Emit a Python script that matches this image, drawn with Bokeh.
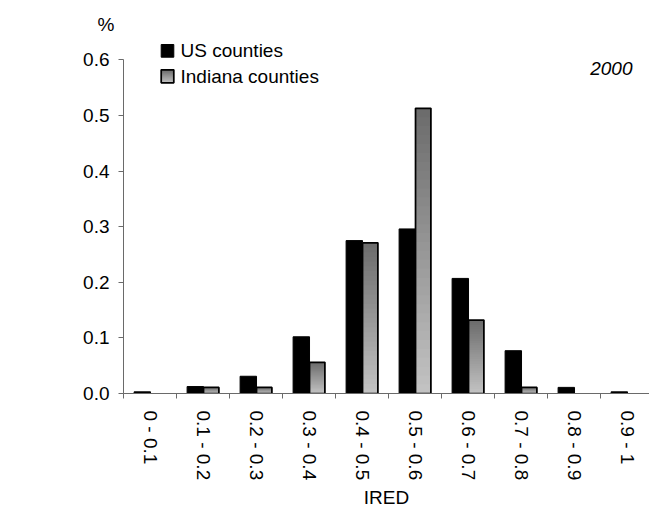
import math
from bokeh.plotting import figure
from bokeh.models import Range1d, FixedTicker, NumeralTickFormatter
from bokeh.embed import file_html
from bokeh.resources import INLINE
from bokeh.core.properties import value

# ---------------- data ----------------
categories = ["0 - 0.1", "0.1 - 0.2", "0.2 - 0.3", "0.3 - 0.4", "0.4 - 0.5",
              "0.5 - 0.6", "0.6 - 0.7", "0.7 - 0.8", "0.8 - 0.9", "0.9 - 1"]
us_counties = [0.003, 0.0125, 0.031, 0.102, 0.275, 0.296, 0.207, 0.077, 0.011, 0.003]
indiana_counties = [0.0, 0.011, 0.011, 0.056, 0.271, 0.513, 0.132, 0.011, 0.0, 0.0]
y_ticks = [0.0, 0.1, 0.2, 0.3, 0.4, 0.5, 0.6]
series_names = ["US counties", "Indiana counties"]
year_label = "2000"
x_title = "IRED"
y_title = "%"

# ---------------- layout ----------------
FONT = "Liberation Sans"
FS = "19px"
W, H = 649, 511
BORDER_L, BORDER_T, BORDER_B = 123, 36, 118
PX_CAT = 53.0          # pixels per category
PX_UNIT = 556.0        # pixels per 1.0 on y
FRAME_W = W - BORDER_L
FRAME_H = H - BORDER_T - BORDER_B
X0_PAGE = BORDER_L
Y0_PAGE = BORDER_T + FRAME_H
AXIS_GRAY = "#6a6a6a"
DARK, LIGHT = (108, 108, 108), (194, 194, 194)
NSLICE = 32


def px_x(page_x):
    return (page_x - X0_PAGE) / PX_CAT


def px_y(page_y):
    return (Y0_PAGE - page_y) / PX_UNIT


def grad_color(t):
    # t=0 bottom (light), t=1 top (dark)
    c = [round(LIGHT[k] + (DARK[k] - LIGHT[k]) * t) for k in range(3)]
    return "#%02x%02x%02x" % tuple(c)


p = figure(width=W, height=H, output_backend="svg", toolbar_location=None,
           x_range=Range1d(0, FRAME_W / PX_CAT), y_range=Range1d(0, FRAME_H / PX_UNIT),
           min_border_left=BORDER_L, min_border_right=0, min_border_top=BORDER_T,
           min_border_bottom=BORDER_B, title=y_title)
p.outline_line_color = None
p.grid.visible = False
p.background_fill_color = "white"

# "%" as a title over the y axis
p.title.align = "left"
p.title.offset = -26
p.title.standoff = 4
p.title.vertical_align = "bottom"
p.title.text_font = FONT
p.title.text_font_size = FS
p.title.text_font_style = "normal"
p.title.text_color = "black"

centers = [i + 0.5 for i in range(len(categories))]

# US bars
p.quad(left=[c - 0.30 for c in centers], right=[c + 0.01 for c in centers],
       bottom=[0] * len(centers), top=us_counties,
       fill_color="black", line_color="black", line_width=1)

# Indiana bars with vertical gradient
gl, gr, gb, gt, gc = [], [], [], [], []
ol, orr, ot = [], [], []
for c, v in zip(centers, indiana_counties):
    if v <= 0:
        continue
    for k in range(NSLICE):
        gl.append(c + 0.01)
        gr.append(c + 0.30)
        gb.append(v * k / NSLICE)
        gt.append(v)
        gc.append(grad_color(k / (NSLICE - 1)))
    ol.append(c + 0.01)
    orr.append(c + 0.30)
    ot.append(v)
p.quad(left=gl, right=gr, bottom=gb, top=gt, fill_color=gc, line_color=None)
p.quad(left=ol, right=orr, bottom=[0] * len(ol), top=ot,
       fill_color=None, line_color="black", line_width=1.75)

# legend (manual)
sq_l, sq_r = px_x(160.7), px_x(173.3)
p.quad(left=[sq_l], right=[sq_r], bottom=[px_y(56.7)], top=[px_y(44.0)],
       fill_color="black", line_color="black", line_width=1)
lb, lt = px_y(82.3), px_y(69.3)
p.quad(left=[sq_l] * NSLICE, right=[sq_r] * NSLICE,
       bottom=[lb + (lt - lb) * k / NSLICE for k in range(NSLICE)], top=[lt] * NSLICE,
       fill_color=[grad_color(k / (NSLICE - 1)) for k in range(NSLICE)], line_color=None)
p.quad(left=[sq_l], right=[sq_r], bottom=[lb], top=[lt],
       fill_color=None, line_color="black", line_width=1.75)
p.text(x=[px_x(180)] * 2, y=[px_y(50.4), px_y(75.8)], text=series_names,
       text_font=value(FONT), text_font_size=value(FS), text_color="black",
       text_baseline="middle", text_align="left")

# year label
p.text(x=[px_x(632)], y=[px_y(68.3)], text=[year_label],
       text_font=value(FONT), text_font_size=value(FS), text_font_style="italic",
       text_color="black", text_baseline="alphabetic", text_align="right")

# x axis
xa = p.xaxis[0]
xa.ticker = FixedTicker(ticks=centers, minor_ticks=list(range(len(categories) + 1)))
xa.major_label_overrides = {c: lab for c, lab in zip(centers, categories)}
xa.major_tick_out = 0
xa.major_tick_in = 0
xa.minor_tick_out = 5
xa.minor_tick_in = 0
xa.minor_tick_line_color = AXIS_GRAY
xa.axis_line_color = AXIS_GRAY
xa.major_label_orientation = -math.pi / 2
xa.major_label_standoff = 12
xa.major_label_text_font = FONT
xa.major_label_text_font_size = FS
xa.major_label_text_color = "black"
xa.axis_label = x_title
xa.axis_label_text_font = FONT
xa.axis_label_text_font_size = FS
xa.axis_label_text_font_style = "normal"
xa.axis_label_text_color = "black"
xa.axis_label_standoff = 4

# y axis
ya = p.yaxis[0]
ya.ticker = FixedTicker(ticks=y_ticks, minor_ticks=[])
ya.formatter = NumeralTickFormatter(format="0.0")
ya.bounds = (0, 0.6)
ya.major_tick_out = 5
ya.major_tick_in = 0
ya.minor_tick_out = 0
ya.minor_tick_in = 0
ya.major_tick_line_color = AXIS_GRAY
ya.axis_line_color = AXIS_GRAY
ya.major_label_standoff = 9
ya.major_label_text_font = FONT
ya.major_label_text_font_size = FS
ya.major_label_text_color = "black"

open("out.html", "w").write(file_html(p, INLINE))
